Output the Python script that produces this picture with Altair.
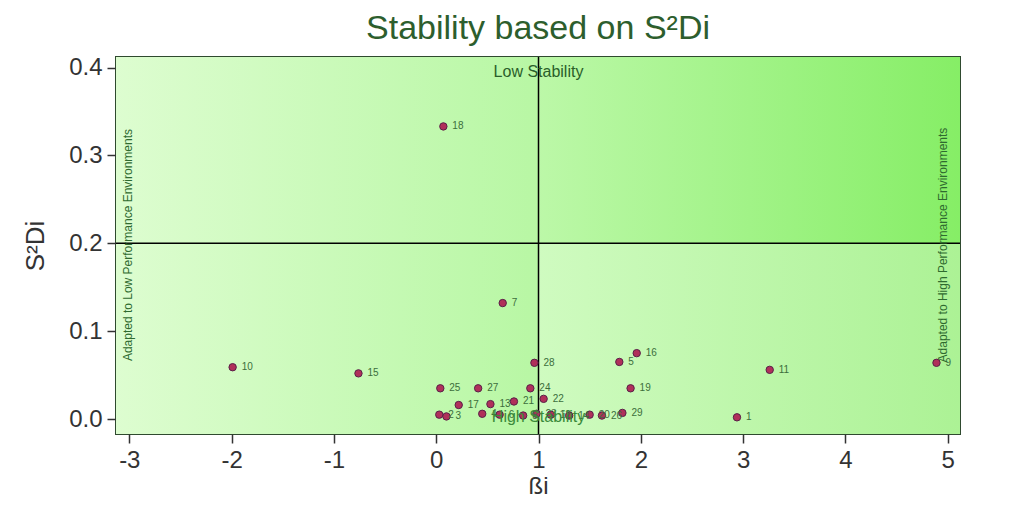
import altair as alt
import pandas as pd

# ---- data ----
genotypes = ["1", "2", "3", "4", "5", "6", "7", "8", "9", "10", "11", "12", "13", "14", "15",
             "16", "17", "18", "19", "20", "21", "22", "23", "24", "25", "26", "27", "28", "29"]
beta_i = [2.94, 0.03, 0.10, 0.45, 1.79, 0.62, 0.65, 0.85, 4.89, -1.99, 3.26, 1.12, 0.53, 1.30, -0.76,
          1.96, 0.22, 0.07, 1.90, 1.50, 0.76, 1.05, 0.98, 0.92, 0.04, 1.62, 0.41, 0.96, 1.82]
s2di = [0.002, 0.005, 0.003, 0.006, 0.065, 0.005, 0.132, 0.004, 0.064, 0.059, 0.056, 0.005, 0.017, 0.004, 0.052,
        0.075, 0.016, 0.333, 0.035, 0.005, 0.020, 0.023, 0.006, 0.035, 0.035, 0.004, 0.035, 0.064, 0.007]

x_domain = [-3.13, 5.12]
y_domain = [-0.017, 0.412]
beta_ref = 1.0
s2di_ref = 0.2
x_ticks = [-3, -2, -1, 0, 1, 2, 3, 4, 5]
y_ticks = [0.0, 0.1, 0.2, 0.3, 0.4]

pts = pd.DataFrame({"g": genotypes, "b": beta_i, "s": s2di})

xs = alt.Scale(domain=x_domain, nice=False, zero=False)
ys = alt.Scale(domain=y_domain, nice=False, zero=False)

def grad(c0, c1):
    return alt.LinearGradient(gradient="linear",
                              stops=[alt.GradientStop(color=c0, offset=0),
                                     alt.GradientStop(color=c1, offset=1)],
                              x1=0, x2=1, y1=0, y2=0)

def quad(x0, x1, y0, y1, c0, c1):
    d = pd.DataFrame({"x0": [x0], "x1": [x1], "y0": [y0], "y1": [y1]})
    return alt.Chart(d).mark_rect(color=grad(c0, c1)).encode(
        x=alt.X("x0:Q", scale=xs, axis=alt.Axis(values=x_ticks, labelExpr="'' + datum.value", title="ßi")),
        x2="x1:Q",
        y=alt.Y("y0:Q", scale=ys, axis=alt.Axis(values=y_ticks, format=".1f", title="S²Di")),
        y2="y1:Q",
    )

q_left = quad(x_domain[0], beta_ref, y_domain[0], y_domain[1], "#DDFDD0", "#B8F7A4")
q_lr = quad(beta_ref, x_domain[1], y_domain[0], s2di_ref, "#CFFBC0", "#ACF295")
q_ur = quad(beta_ref, x_domain[1], s2di_ref, y_domain[1], "#BCF8A8", "#86EE66")

vline = alt.Chart(pd.DataFrame({"b": [beta_ref]})).mark_rule(color="black", strokeWidth=1.5).encode(
    x=alt.X("b:Q", scale=xs))
hline = alt.Chart(pd.DataFrame({"s": [s2di_ref]})).mark_rule(color="black", strokeWidth=1.5).encode(
    y=alt.Y("s:Q", scale=ys))

points = alt.Chart(pts).mark_point(filled=True, shape="circle", size=55, fill="#B0305A",
                                   stroke="#5A2048", strokeWidth=1, opacity=1).encode(
    x=alt.X("b:Q", scale=xs), y=alt.Y("s:Q", scale=ys))

labels = alt.Chart(pts).mark_text(align="left", dx=9, fontSize=10, color="#3C6E3C",
                                  font="Liberation Sans").encode(
    x=alt.X("b:Q", scale=xs), y=alt.Y("s:Q", scale=ys), text="g:N")

ann = pd.DataFrame({
    "b": [beta_ref, beta_ref],
    "s": [0.395, 0.002],
    "t": ["Low Stability", "High Stability"],
    "c": ["#2A5E2A", "#3A8A3A"],
})
ann_text = alt.Chart(ann).mark_text(fontSize=16, font="Liberation Sans").encode(
    x=alt.X("b:Q", scale=xs), y=alt.Y("s:Q", scale=ys), text="t:N",
    color=alt.Color("c:N", scale=None))

side = pd.DataFrame({
    "b": [-3.01, 4.95],
    "s": [0.198, 0.198],
    "t": ["Adapted to Low Performance Environments", "Adapted to High Performance Environments"],
})
side_text = alt.Chart(side).mark_text(angle=270, fontSize=12, font="Liberation Sans",
                                      color="#2F6A2F").encode(
    x=alt.X("b:Q", scale=xs), y=alt.Y("s:Q", scale=ys), text="t:N")

chart = alt.layer(q_left, q_lr, q_ur, vline, hline, points, labels, ann_text, side_text).properties(
    width=844, height=377,
    autosize=alt.AutoSizeParams(type="none"),
    padding={"left": 108, "top": 49, "right": 44, "bottom": 64},
    title=alt.TitleParams("Stability based on S²Di", fontSize=34, font="Liberation Sans",
                          fontWeight="normal", color="#2D5E2D", offset=10, anchor="middle"),
).configure_view(stroke="#2F4A2F", strokeWidth=2).configure_axis(
    grid=False, domain=False, tickColor="#333333", tickSize=9, tickWidth=1.5,
    labelFontSize=24, labelColor="#333333", labelFont="Liberation Sans",
    titleColor="#333333", titleFont="Liberation Sans", titleFontWeight="normal",
    labelPadding=5,
).configure_axisY(titlePadding=20, titleFontSize=26).configure_axisX(titlePadding=2, titleFontSize=24)

chart.save("out.html", embed_options={"renderer": "svg", "actions": False})
